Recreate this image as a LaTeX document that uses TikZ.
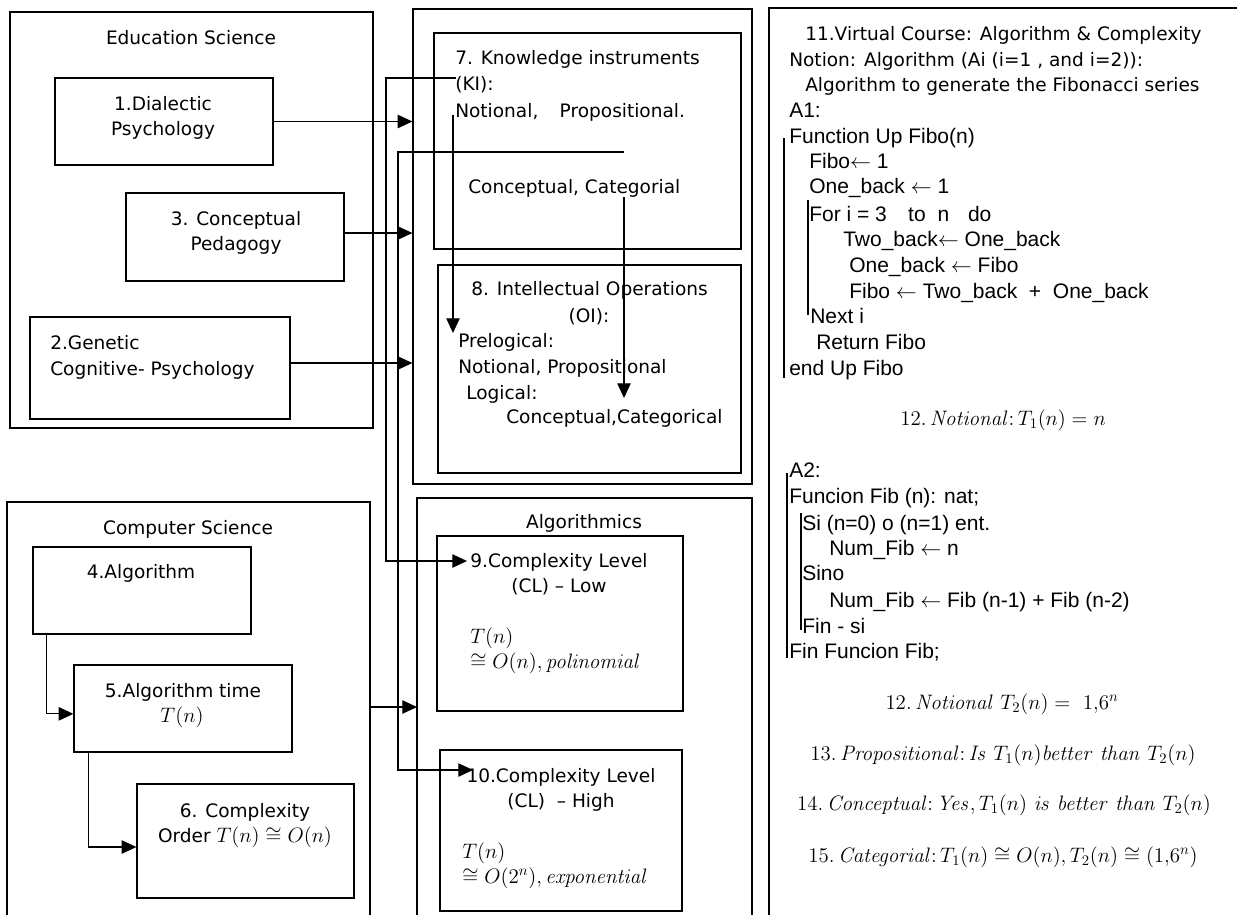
\RequirePackage{fix-cm}
\documentclass[tikz,border=0pt]{standalone}
\usepackage[no-math]{fontspec}
\setmainfont{DejaVu Sans}
\newfontfamily\codefont{Liberation Sans}
\usetikzlibrary{arrows.meta,fit,calc}
\newcommand\mth[1]{{\fontsize{15.7pt}{19pt}\selectfont$#1$}}
\begin{document}
\begin{tikzpicture}[x=0.75pt,y=-0.75pt,
  box/.style={draw, line width=0.9pt, inner sep=0pt},
  ln/.style={line width=0.9pt},
  arr/.style={line width=0.9pt, -{Triangle[length=11pt,width=10pt]}},
  txt/.style={inner sep=0pt, font=\fontsize{13.9pt}{18pt}\selectfont},
  code/.style={inner sep=0pt, anchor=base west, font=\codefont\fontsize{15.75pt}{19pt}\selectfont},
  eq/.style={inner sep=0pt, anchor=base, font=\fontsize{15.7pt}{19pt}\selectfont}]
\useasboundingbox (0,0) rectangle (1237,915);

% ---------- Education Science ----------
\node[box, fit={(10,12) (373,428)}] (edu) {};
\node[txt, anchor=base] (tedu) at (191,44) {Education Science};
\node[box, fit={(55,78) (273,165)}] (b1) {};
\node[txt, anchor=base] (t1a) at (163,110) {1.Dialectic};
\node[txt, anchor=base] (t1b) at (163,135) {Psychology};
\node[box, fit={(126,193) (344,281)}] (b3) {};
\node[txt, anchor=base] (t3a) at (236,225) {3. Conceptual};
\node[txt, anchor=base] (t3b) at (236,250) {Pedagogy};
\node[box, fit={(30,317) (290,419)}] (b2) {};
\node[txt, anchor=base west] (t2a) at (50,349) {2.Genetic};
\node[txt, anchor=base west] (t2b) at (50,375) {Cognitive- Psychology};

% ---------- Computer Science ----------
\draw[ln] (7,915) |- (370,502) -- (370,915);
\coordinate (csE) at (370,707);
\node[txt, anchor=base] (tcs) at (188,534) {Computer Science};
\node[box, fit={(33,547) (251,634)}] (b4) {};
\node[txt, anchor=base] (t4) at (141,578) {4.Algorithm};
\node[box, fit={(74,665) (292,752)}] (b5) {};
\node[txt, anchor=base] (t5a) at (183,697) {5.Algorithm time};
\node[txt, anchor=base] (t5b) at (182,722) {\mth{T(n)}};
\node[box, fit={(137,784) (354,898)}] (b6) {};
\node[txt, anchor=base] (t6a) at (245,817) {6. Complexity};
\node[txt, anchor=base] (t6b) at (245,842) {Order \mth{T(n)\cong O(n)}};

% ---------- Knowledge box ----------
\node[box, fit={(413,9) (752,484)}] (kbox) {};
\node[box, fit={(434,33) (741,249)}] (b7) {};
\node[txt, anchor=base west] (t7a) at (455,64) {7. Knowledge instruments};
\node[txt, anchor=base west] (t7b) at (455,90) {(KI):};
\node[txt, anchor=base west] (t7c) at (455,117) {Notional,\hspace{16pt}Propositional.};
\node[txt, anchor=base west] (t7d) at (468,193) {Conceptual, Categorial};
\node[box, fit={(438,265) (741,473)}] (b8) {};
\node[txt, anchor=base west] (t8a) at (471,295) {8. Intellectual Operations};
\node[txt, anchor=base] (t8b) at (589,322) {(OI):};
\node[txt, anchor=base west] (t8c) at (458,347) {Prelogical:};
\node[txt, anchor=base west] (t8d) at (458,373) {Notional, Propositional};
\node[txt, anchor=base west] (t8e) at (466,399) {Logical:};
\node[txt, anchor=base west] (t8f) at (506,423) {Conceptual,Categorical};

% ---------- Algorithmics ----------
\draw[ln] (417,915) |- (752,498) -- (752,915);
\coordinate (algW) at (417,707);
\node[txt, anchor=base] (talg) at (584,528) {Algorithmics};
\node[box, fit={(437,536) (683,711)}] (b9) {};
\node[txt, anchor=base] (t9a) at (559,567) {9.Complexity Level};
\node[txt, anchor=base] (t9b) at (559,592) {(CL) -- Low};
\node[txt, anchor=base west] (t9c) at (470,643) {\mth{T(n)}};
\node[txt, anchor=base west] (t9d) at (470,668) {\mth{\cong O(n), \mathit{polinomial}}};
\node[box, fit={(440,750) (682,911)}] (b10) {};
\node[txt, anchor=base] (t10a) at (561,782) {10.Complexity Level};
\node[txt, anchor=base] (t10b) at (561,807) {(CL)\ \ -- High};
\node[txt, anchor=base west] (t10c) at (462,858) {\mth{T(n)}};
\node[txt, anchor=base west] (t10d) at (462,883) {\mth{\cong O(2^n), \mathit{exponential}}};

% ---------- connectors ----------
\draw[arr] (b1.east) -- (b1.east -| kbox.west);
\draw[arr] ([yshift=3pt]b3.east) -- ([yshift=3pt]b3.east -| kbox.west);
\draw[arr] ([yshift=3.75pt]b2.east) -- ([yshift=3.75pt]b2.east -| kbox.west);
\draw[arr] (csE) -- (algW);
\draw[arr] ([xshift=10.5pt]b4.south west) |- ([yshift=-4pt]b5.west);
\draw[arr] ([xshift=11.25pt]b5.south west) |- ([yshift=-4.5pt]b6.west);
\coordinate (k1) at (456,78);
\coordinate (r1) at (386,561);
\coordinate (e1) at (467,561);
\draw[arr] (k1) -| (r1) -- (e1);
\coordinate (k2) at (624,152);
\coordinate (r2) at (398,770);
\coordinate (e2) at (473,770);
\draw[arr] (k2) -| (r2) -- (e2);
\coordinate (k3) at (453,115);
\coordinate (e3) at (453,333);
\draw[arr] (k3) -- (e3);
\coordinate (k4) at (624,197);
\coordinate (e4) at (624,398);
\draw[arr] (k4) -- (e4);

% ---------- Right panel ----------
\draw[ln] (769,915) |- (1237,8);
\node[txt, anchor=base west] (c0) at (805,40) {11.Virtual Course: Algorithm \& Complexity};
\node[txt, anchor=base west] (c1) at (789,66) {Notion: Algorithm (Ai (i=1 , and i=2)):};
\node[txt, anchor=base west] (c2) at (805,91) {Algorithm to generate the Fibonacci series};
\node[code] (c3) at (789,117) {A1:};
\node[code] (c4) at (789,143) {Function Up Fibo(n)};
\node[code] (c5) at (809,168) {Fibo$\leftarrow$ 1};
\node[code] (c6) at (809,193) {One\_back $\leftarrow$ 1};
\node[code] (c7) at (809,221) {For i = 3\hspace{16pt}to\hspace{9pt}n\hspace{14pt}do};
\node[code] (c8) at (843,246) {Two\_back$\leftarrow$ One\_back};
\node[code] (c9) at (849,272) {One\_back $\leftarrow$ Fibo};
\node[code] (c10) at (849,298) {Fibo $\leftarrow$ Two\_back\ \ +\ \ One\_back};
\node[code] (c11) at (810,323) {Next i};
\node[code] (c12) at (816,349) {Return Fibo};
\node[code] (c13) at (789,375) {end Up Fibo};
\draw[ln] (784,138) -- (784,378);
\draw[ln] (808,200) -- (808,315);
\node[eq] (m12) at (1003,425) {$12.\,\mathit{Notional}\colon T_1(n)=n$};

\node[code] (d1) at (789,477) {A2:};
\node[code] (d2) at (789,503) {Funcion Fib (n): nat;};
\node[code] (d3) at (802,530) {Si (n=0) o (n=1) ent.};
\node[code] (d4) at (829,555) {Num\_Fib $\leftarrow$ n};
\node[code] (d5) at (802,580) {Sino};
\node[code] (d6) at (829,607) {Num\_Fib $\leftarrow$ Fib (n-1) + Fib (n-2)};
\node[code] (d7) at (802,633) {Fin - si};
\node[code] (d8) at (789,658) {Fin Funcion Fib;};
\draw[ln] (787,473) -- (787,658);
\draw[ln] (801,513) -- (801,630);
\node[eq] (m12b) at (1002,709) {$12.\,\mathit{Notional}\ T_2(n) =\ 1{,}6^n$};
\node[eq] (m13) at (1003,760) {$13.\,\mathit{Propositional}\colon \mathit{Is}\ T_1(n)\mathit{better\ than}\ T_2(n)$};
\node[eq] (m14) at (1004,810) {$14.\,\mathit{Conceptual}\colon \mathit{Yes}, T_1(n)\ \mathit{is\ better\ than}\ T_2(n)$};
\node[eq] (m15) at (1003,862) {$15.\,\mathit{Categorial}\colon T_1(n)\cong O(n), T_2(n)\cong (1{,}6^n)$};
\end{tikzpicture}
\end{document}
